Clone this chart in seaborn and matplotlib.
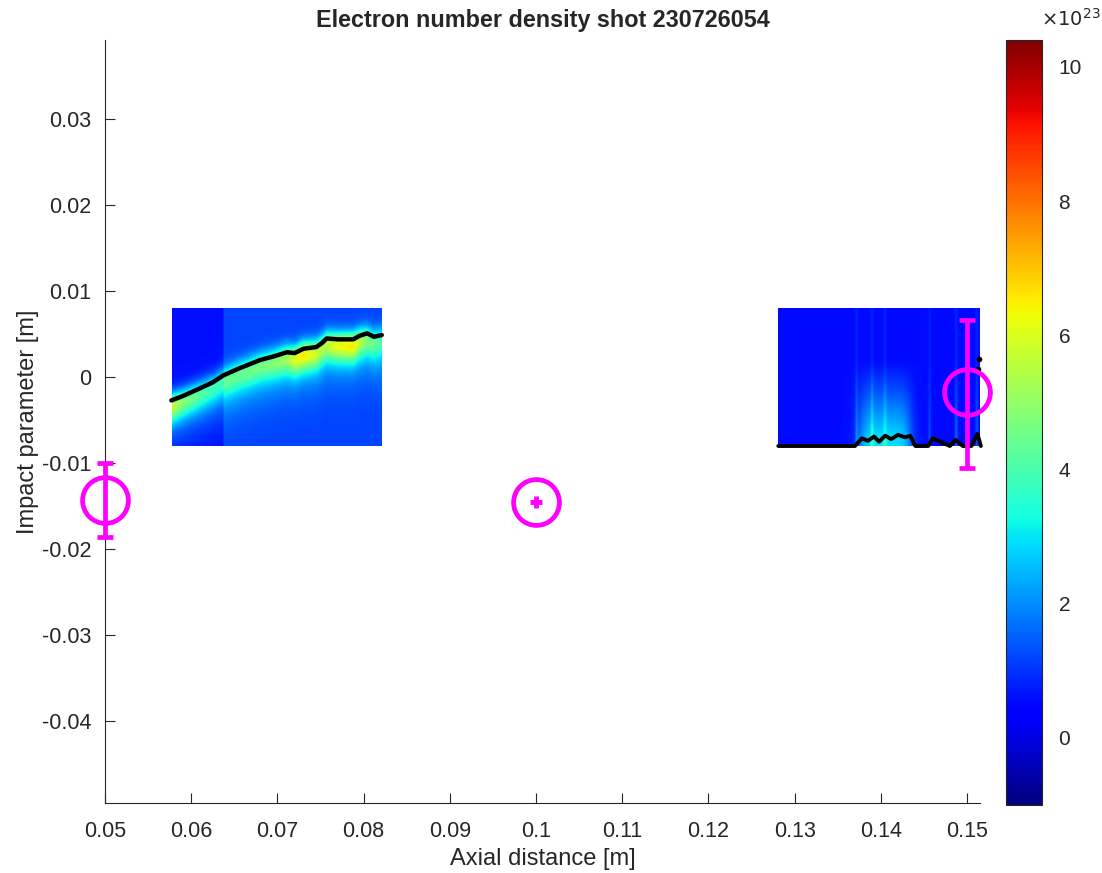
import numpy as np
import matplotlib.pyplot as plt
import seaborn as sns

sns.set_style("ticks")
plt.rcParams['font.family'] = ['Liberation Sans', 'DejaVu Sans']

# colour limits of the density maps (units of 1e23)
clim = (-1.0, 10.4)

# left density map: ridge of the electron density
left_extent = [0.0578, 0.0821, -0.008, 0.008]
ridge_x = [0.0577, 0.0590, 0.0610, 0.0625, 0.0637, 0.0655, 0.0680, 0.0695, 0.0711,
           0.0720, 0.0730, 0.0745, 0.0752, 0.0757, 0.0770, 0.0788, 0.0795, 0.0804,
           0.0812, 0.0821]
ridge_y = [-0.0027, -0.0022, -0.0013, -0.0006, 0.0002, 0.0010, 0.0020, 0.0024, 0.0029,
           0.0028, 0.0033, 0.0035, 0.0040, 0.0045, 0.0044, 0.0044, 0.0048, 0.0051,
           0.0047, 0.0049]
ridge_peak = [3.8, 2.8, 2.2, 1.8, 1.8, 1.8, 2.0, 2.2, 2.6, 3.4, 4.0, 3.2, 2.8, 3.0,
              3.6, 4.0, 3.0, 2.2, 1.8, 1.5]
left_bg = 1.2
left_strip_end = 0.0637
left_strip_bg = 0.6

# right density map
right_extent = [0.1281, 0.1516, -0.008, 0.008]
right_bg = 0.55
streak_x = [0.1372, 0.1390, 0.1405, 0.1457, 0.1488, 0.1512]
streak_amp = [0.9, 0.9, 0.8, 0.7, 1.1, 0.9]
glow_x = [0.1376, 0.1434]
glow_amp = 2.4

# detected edge in the right map
edge_x = [0.1281, 0.1370, 0.1378, 0.1385, 0.1392, 0.1398, 0.1405, 0.1412, 0.1420,
          0.1428, 0.1434, 0.1440, 0.1455, 0.1460, 0.1480, 0.1487, 0.1495, 0.1505,
          0.1512, 0.1516]
edge_y = [-0.0080, -0.0080, -0.0071, -0.0074, -0.0069, -0.0075, -0.0068, -0.0072,
          -0.0067, -0.0070, -0.0068, -0.0080, -0.0080, -0.0071, -0.0080, -0.0073,
          -0.0080, -0.0080, -0.0066, -0.0080]
extra_x = [0.1513, 0.1514]
extra_y = [0.0010, 0.0021]

# probe positions with error bars
probe_x = [0.05, 0.15]
probe_y = [-0.0143, -0.0017]
probe_lo = [0.0043, 0.0088]
probe_hi = [0.0043, 0.0083]
centre_x = [0.10]
centre_y = [-0.01453]

xticks = [0.05, 0.06, 0.07, 0.08, 0.09, 0.1, 0.11, 0.12, 0.13, 0.14, 0.15]
yticks = [0.03, 0.02, 0.01, 0, -0.01, -0.02, -0.03, -0.04]
cticks = [0, 2, 4, 6, 8, 10]

# build map images from the values above
nx, ny = 200, 120
xs = np.linspace(left_extent[0], left_extent[1], nx)
ys = np.linspace(left_extent[2], left_extent[3], ny)
X, Y = np.meshgrid(xs, ys)
rc = np.interp(xs, ridge_x, ridge_y)[None, :] - 0.0006
pk = np.interp(xs, ridge_x, ridge_peak)[None, :]
d = Y - rc
sig = np.where(d > 0, 0.0010, 0.0014)
left_img = np.where(X < left_strip_end, left_strip_bg, left_bg) + pk * np.exp(-d**2 / (2 * sig**2))
left_img += np.where(d < 0, 1.5 * np.exp(-d**2 / (2 * 0.003**2)), 1.2 * np.exp(-d**2 / (2 * 0.0012**2)))

xs2 = np.linspace(right_extent[0], right_extent[1], nx)
ys2 = np.linspace(right_extent[2], right_extent[3], ny)
X2, Y2 = np.meshgrid(xs2, ys2)
vert = np.clip((0.002 - Y2) / 0.009, 0, 1)
inside = 1 / (1 + np.exp(-(X2 - glow_x[0]) / 0.0004)) / (1 + np.exp((X2 - glow_x[1]) / 0.0004))
right_img = right_bg + glow_amp * inside * vert ** 1.2
for sx, sa in zip(streak_x, streak_amp):
    right_img += sa * np.exp(-(X2 - sx)**2 / (2 * 0.00012**2)) * (0.3 + 0.7 * vert)

fig = plt.figure(figsize=(11.02, 8.73), dpi=100)
ax = fig.add_axes([0.0953, 0.0802, 0.7940, 0.8740])
cax = fig.add_axes([0.9125, 0.0780, 0.0330, 0.8762])

kw = dict(origin='lower', aspect='auto', cmap='jet', vmin=clim[0], vmax=clim[1],
          interpolation='bilinear')
im = ax.imshow(left_img, extent=left_extent, **kw)
ax.imshow(right_img, extent=right_extent, **kw)

sns.lineplot(x=ridge_x, y=ridge_y, sort=False, color='black', lw=3.2, ax=ax)
sns.lineplot(x=edge_x, y=edge_y, sort=False, color='black', lw=2.8, ax=ax)
sns.scatterplot(x=extra_x, y=extra_y, color='black', s=14, edgecolor='black', ax=ax)

ax.errorbar(probe_x, probe_y, yerr=[probe_lo, probe_hi], fmt='o', color='magenta',
            mfc='none', mec='magenta', ms=33, mew=3.4, elinewidth=3.4, capsize=6,
            capthick=3.4, zorder=5, clip_on=False)
ax.plot(centre_x, centre_y, 'o', ms=33, mfc='none', mec='magenta', mew=3.4, zorder=5,
        clip_on=False)
ax.plot(centre_x, centre_y, '+', ms=9, color='magenta', mew=3.5, zorder=5)

ax.set_xlim(0.05, 0.1515)
ax.set_ylim(-0.0495, 0.0392)
ax.set_xticks(xticks)
ax.set_xticklabels(['%g' % t for t in xticks])
ax.set_yticks(yticks)
ax.set_yticklabels(['%g' % t for t in yticks])
ax.tick_params(direction='in', length=7, width=0.8, labelsize=15.5,
               colors='#262626', pad=10)
ax.tick_params(axis='x', pad=13)
for s in ['top', 'right']:
    ax.spines[s].set_visible(False)
for s in ['left', 'bottom']:
    ax.spines[s].set_color('#262626')
    ax.spines[s].set_linewidth(0.8)
ax.set_xlabel('Axial distance [m]', fontsize=17, color='#262626', labelpad=4)
ax.set_ylabel('Impact parameter [m]', fontsize=17, color='#262626', labelpad=2)
ax.set_title('Electron number density shot 230726054', fontsize=16.8,
             fontweight='bold', pad=9)

cb = fig.colorbar(im, cax=cax, ticks=cticks)
cb.ax.tick_params(direction='in', length=4, width=0.8, labelsize=15,
                  colors='#262626', pad=12)
cb.outline.set_linewidth(0.8)
cb.outline.set_edgecolor('#262626')
fig.text(0.945, 0.970, r'$\times10^{23}$', fontsize=14, color='#262626', ha='left')

for coll in ax.collections:
    coll.set_clip_on(False)
for line in ax.lines:
    line.set_clip_on(False)

fig.savefig('out.png', dpi=100)
